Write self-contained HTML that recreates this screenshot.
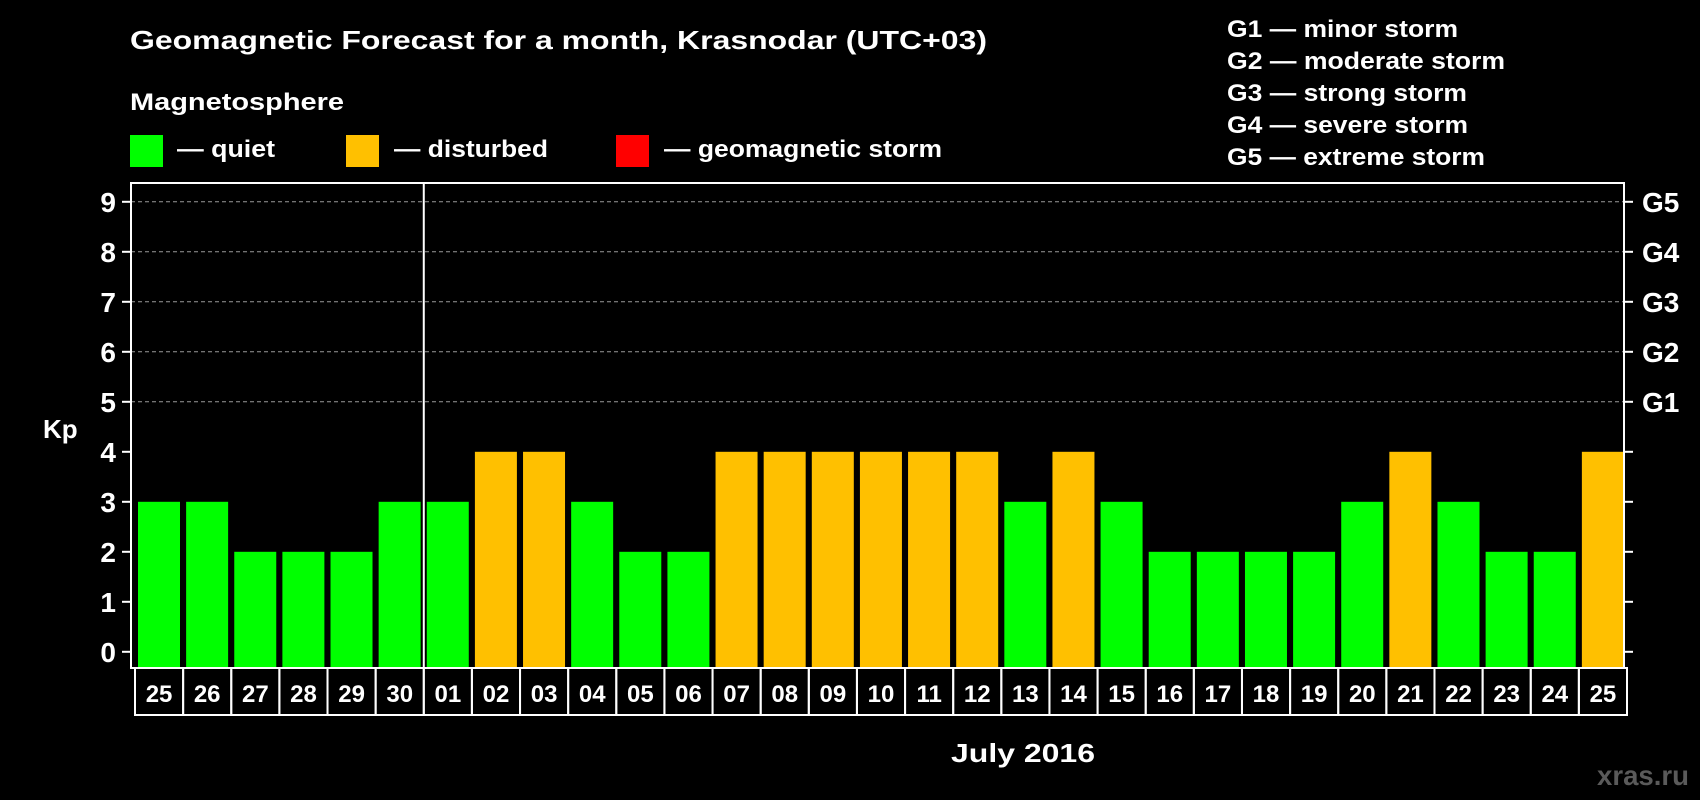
<!DOCTYPE html>
<html><head><meta charset="utf-8"><style>
html,body{margin:0;padding:0;background:#000;}
svg{display:block;font-family:"Liberation Sans",Arial,sans-serif;font-weight:bold;}
</style></head><body>
<svg id="chart" width="1700" height="800" viewBox="0 0 1700 800">
<rect x="0" y="0" width="1700" height="800" fill="#000"/>
<text x="130" y="49" fill="#fff" font-size="26" textLength="857" lengthAdjust="spacingAndGlyphs">Geomagnetic Forecast for a month, Krasnodar (UTC+03)</text>
<text x="130" y="110" fill="#fff" font-size="24" textLength="214" lengthAdjust="spacingAndGlyphs">Magnetosphere</text>
<rect x="130" y="135" width="33" height="32" fill="#00ff00"/>
<text x="177" y="157" fill="#fff" font-size="24" textLength="98" lengthAdjust="spacingAndGlyphs">— quiet</text>
<rect x="346" y="135" width="33" height="32" fill="#ffc000"/>
<text x="394" y="157" fill="#fff" font-size="24" textLength="154" lengthAdjust="spacingAndGlyphs">— disturbed</text>
<rect x="616" y="135" width="33" height="32" fill="#ff0000"/>
<text x="664" y="157" fill="#fff" font-size="24" textLength="278" lengthAdjust="spacingAndGlyphs">— geomagnetic storm</text>
<g fill="#fff" font-size="24">
<text x="1227" y="37" textLength="231" lengthAdjust="spacingAndGlyphs">G1 — minor storm</text>
<text x="1227" y="69" textLength="278" lengthAdjust="spacingAndGlyphs">G2 — moderate storm</text>
<text x="1227" y="101" textLength="240" lengthAdjust="spacingAndGlyphs">G3 — strong storm</text>
<text x="1227" y="133" textLength="241" lengthAdjust="spacingAndGlyphs">G4 — severe storm</text>
<text x="1227" y="165" textLength="258" lengthAdjust="spacingAndGlyphs">G5 — extreme storm</text>
</g>
<g id="plot"></g>
<text x="43" y="438" fill="#fff" font-size="26">Kp</text>
<text x="1023" y="762" fill="#fff" font-size="26" text-anchor="middle" textLength="144" lengthAdjust="spacingAndGlyphs">July 2016</text>
<text x="1689" y="785" fill="#5a5a5a" font-size="28" text-anchor="end" textLength="92" lengthAdjust="spacingAndGlyphs">xras.ru</text>
</svg>
<script>
const days = ["25","26","27","28","29","30","01","02","03","04","05","06","07","08","09","10","11","12","13","14","15","16","17","18","19","20","21","22","23","24","25"];
const kp = [3,3,2,2,2,3,3,4,4,3,2,2,4,4,4,4,4,4,3,4,3,2,2,2,2,3,4,3,2,2,4];
const yTicks = [0,1,2,3,4,5,6,7,8,9];
const gLabels = [[5,"G1"],[6,"G2"],[7,"G3"],[8,"G4"],[9,"G5"]];
const monthStartIndex = 6;

const NS = "http://www.w3.org/2000/svg";
const g = document.getElementById("plot");
const L = 131, R = 1624, T = 183, B = 668;
const pitch = (R - L - 1) / days.length;
const y = v => 651.8 - v * 50;
const xs = i => L + 7 + i * pitch;
const bw = 42;
function mk(tag, attrs) { const e = document.createElementNS(NS, tag); for (const k in attrs) e.setAttribute(k, attrs[k]); g.appendChild(e); return e; }
function color(v) { return v >= 5 ? "#ff0000" : v >= 4 ? "#ffc000" : "#00ff00"; }

yTicks.forEach(v => {
  if (v >= 5) {
    const gl = mk("line", {x1: L, x2: R, y1: y(v), y2: y(v), stroke: "#999", "stroke-width": 1, "stroke-dasharray": "4,3"});
    
    
  }
  const t1 = mk("line", {x1: L - 9, x2: L, y1: y(v), y2: y(v), stroke: "#fff", "stroke-width": 2});
  
  
  const t2 = mk("line", {x1: R, x2: R + 9, y1: y(v), y2: y(v), stroke: "#fff", "stroke-width": 2});
  
  
  const tl = mk("text", {x: 116, y: y(v) + 10, fill: "#fff", "font-size": 28, "text-anchor": "end"});
  tl.textContent = v;
  
  
});
gLabels.forEach(([v, s]) => {
  const t = mk("text", {x: 1642, y: y(v) + 10, fill: "#fff", "font-size": 28});
  t.textContent = s;
  
  
});
kp.forEach((v, i) => {
  const r = mk("rect", {x: xs(i), y: y(v), width: bw, height: B - y(v), fill: color(v)});
  
  
});
const fr = mk("rect", {x: L, y: T, width: R - L, height: B - T, fill: "none", stroke: "#fff", "stroke-width": 2});


const dx = xs(monthStartIndex) - 3;
const dv = mk("line", {x1: dx, x2: dx, y1: T, y2: B, stroke: "#fff", "stroke-width": 2});


days.forEach((d, i) => {
  const bx = xs(i) - 3;
  const box = mk("rect", {x: bx, y: B, width: pitch, height: 47, fill: "none", stroke: "#fff", "stroke-width": 2});
  
  
  const t = mk("text", {x: bx + pitch / 2, y: 702, fill: "#fff", "font-size": 24, "text-anchor": "middle"});
  t.textContent = d;
  
  
});
</script>
</body></html>
